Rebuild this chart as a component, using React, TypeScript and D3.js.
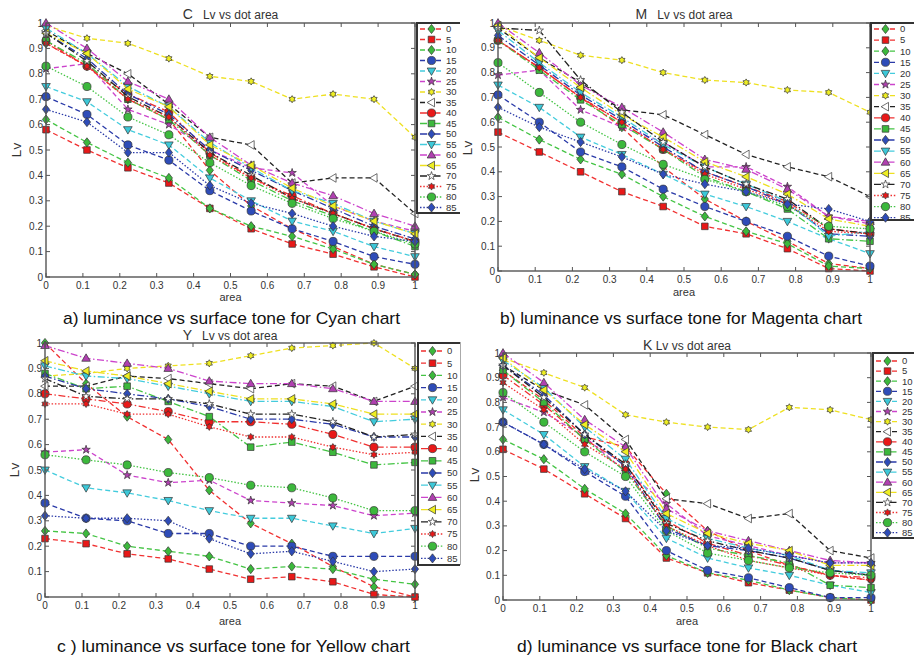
import React from 'react';
import * as d3 from 'd3';

// dot area (x axis)
const areas = [0, 0.111, 0.222, 0.333, 0.444, 0.556, 0.667, 0.778, 0.889, 1];
const tones = ['0', '5', '10', '15', '20', '25', '30', '35', '40', '45', '50', '55', '60', '65', '70', '75', '80', '85'];
const tickValues = [0, 0.1, 0.2, 0.3, 0.4, 0.5, 0.6, 0.7, 0.8, 0.9, 1];
const tickLabels = ['0', '0.1', '0.2', '0.3', '0.4', '0.5', '0.6', '0.7', '0.8', '0.9', '1'];

// Lv per tone, one row per series
const cyanLv = [
  [0.92, 0.83, 0.70, 0.62, 0.42, 0.28, 0.19, 0.12, 0.05, 0.01],
  [0.58, 0.50, 0.43, 0.37, 0.27, 0.19, 0.13, 0.09, 0.04, 0.00],
  [0.62, 0.53, 0.45, 0.39, 0.27, 0.20, 0.16, 0.11, 0.05, 0.01],
  [0.71, 0.64, 0.52, 0.46, 0.34, 0.26, 0.19, 0.14, 0.08, 0.05],
  [0.75, 0.69, 0.58, 0.52, 0.39, 0.30, 0.22, 0.18, 0.12, 0.08],
  [0.82, 0.84, 0.66, 0.60, 0.50, 0.43, 0.41, 0.28, 0.22, 0.18],
  [0.99, 0.94, 0.92, 0.86, 0.79, 0.77, 0.70, 0.72, 0.70, 0.55],
  [0.97, 0.88, 0.80, 0.68, 0.55, 0.52, 0.37, 0.39, 0.39, 0.25],
  [0.93, 0.83, 0.72, 0.65, 0.49, 0.39, 0.32, 0.25, 0.19, 0.14],
  [0.93, 0.84, 0.70, 0.62, 0.48, 0.38, 0.30, 0.24, 0.18, 0.12],
  [0.96, 0.86, 0.72, 0.64, 0.50, 0.42, 0.34, 0.27, 0.20, 0.15],
  [0.98, 0.88, 0.75, 0.67, 0.53, 0.43, 0.34, 0.29, 0.22, 0.17],
  [1.00, 0.90, 0.77, 0.70, 0.55, 0.44, 0.37, 0.32, 0.25, 0.20],
  [0.96, 0.88, 0.74, 0.67, 0.52, 0.44, 0.35, 0.28, 0.22, 0.17],
  [0.96, 0.85, 0.71, 0.63, 0.49, 0.40, 0.31, 0.25, 0.19, 0.14],
  [0.92, 0.83, 0.70, 0.63, 0.48, 0.39, 0.31, 0.25, 0.19, 0.14],
  [0.83, 0.75, 0.63, 0.56, 0.45, 0.36, 0.29, 0.23, 0.18, 0.13],
  [0.66, 0.61, 0.49, 0.49, 0.36, 0.29, 0.25, 0.20, 0.16, 0.14],
];

const magentaLv = [
  [0.93, 0.82, 0.70, 0.58, 0.42, 0.29, 0.20, 0.12, 0.03, 0.01],
  [0.56, 0.48, 0.40, 0.32, 0.26, 0.18, 0.15, 0.09, 0.01, 0.00],
  [0.62, 0.53, 0.45, 0.39, 0.30, 0.22, 0.16, 0.11, 0.02, 0.01],
  [0.71, 0.60, 0.48, 0.42, 0.33, 0.26, 0.20, 0.14, 0.06, 0.02],
  [0.75, 0.66, 0.54, 0.47, 0.39, 0.31, 0.26, 0.20, 0.13, 0.07],
  [0.79, 0.81, 0.65, 0.58, 0.52, 0.42, 0.42, 0.34, 0.22, 0.19],
  [0.99, 0.93, 0.87, 0.85, 0.80, 0.77, 0.76, 0.73, 0.72, 0.64],
  [0.98, 0.86, 0.76, 0.65, 0.63, 0.55, 0.47, 0.42, 0.38, 0.30],
  [0.93, 0.82, 0.70, 0.60, 0.49, 0.40, 0.34, 0.28, 0.17, 0.15],
  [0.93, 0.81, 0.69, 0.59, 0.49, 0.38, 0.32, 0.25, 0.13, 0.12],
  [0.95, 0.83, 0.71, 0.61, 0.50, 0.40, 0.34, 0.27, 0.15, 0.14],
  [0.97, 0.84, 0.72, 0.62, 0.51, 0.42, 0.35, 0.28, 0.14, 0.16],
  [1.00, 0.88, 0.75, 0.66, 0.56, 0.45, 0.41, 0.33, 0.22, 0.20],
  [0.99, 0.86, 0.74, 0.63, 0.54, 0.44, 0.38, 0.31, 0.21, 0.18],
  [0.98, 0.97, 0.77, 0.64, 0.52, 0.42, 0.35, 0.29, 0.17, 0.15],
  [0.93, 0.82, 0.70, 0.60, 0.49, 0.39, 0.33, 0.27, 0.16, 0.15],
  [0.84, 0.72, 0.60, 0.51, 0.43, 0.37, 0.32, 0.26, 0.18, 0.17],
  [0.66, 0.58, 0.52, 0.46, 0.39, 0.35, 0.32, 0.27, 0.25, 0.20],
];

const yellowLv = [
  [1.00, 0.84, 0.71, 0.62, 0.42, 0.29, 0.21, 0.12, 0.04, 0.00],
  [0.23, 0.21, 0.17, 0.15, 0.11, 0.07, 0.08, 0.06, 0.01, 0.00],
  [0.26, 0.25, 0.20, 0.18, 0.16, 0.11, 0.12, 0.11, 0.07, 0.05],
  [0.37, 0.31, 0.30, 0.25, 0.25, 0.20, 0.20, 0.16, 0.16, 0.16],
  [0.50, 0.43, 0.41, 0.38, 0.34, 0.31, 0.31, 0.28, 0.25, 0.27],
  [0.57, 0.58, 0.48, 0.45, 0.46, 0.38, 0.37, 0.36, 0.32, 0.33],
  [0.87, 0.88, 0.90, 0.91, 0.92, 0.95, 0.98, 0.99, 1.00, 0.90],
  [0.83, 0.83, 0.87, 0.86, 0.84, 0.82, 0.84, 0.83, 0.77, 0.83],
  [0.80, 0.78, 0.76, 0.73, 0.69, 0.69, 0.68, 0.64, 0.59, 0.59],
  [0.88, 0.82, 0.83, 0.77, 0.71, 0.59, 0.61, 0.57, 0.52, 0.53],
  [0.87, 0.82, 0.80, 0.78, 0.75, 0.70, 0.70, 0.68, 0.63, 0.63],
  [0.91, 0.87, 0.86, 0.83, 0.80, 0.77, 0.77, 0.75, 0.69, 0.70],
  [0.99, 0.94, 0.92, 0.90, 0.85, 0.84, 0.84, 0.82, 0.77, 0.77],
  [0.93, 0.89, 0.87, 0.84, 0.81, 0.78, 0.78, 0.76, 0.72, 0.72],
  [0.86, 0.79, 0.78, 0.78, 0.76, 0.72, 0.72, 0.69, 0.63, 0.64],
  [0.76, 0.76, 0.72, 0.72, 0.67, 0.63, 0.63, 0.59, 0.56, 0.57],
  [0.56, 0.54, 0.52, 0.49, 0.47, 0.44, 0.43, 0.39, 0.34, 0.34],
  [0.32, 0.31, 0.31, 0.30, 0.23, 0.17, 0.18, 0.14, 0.10, 0.11],
];

const blackLv = [
  [0.93, 0.81, 0.66, 0.62, 0.43, 0.28, 0.20, 0.14, 0.10, 0.08],
  [0.61, 0.53, 0.43, 0.33, 0.17, 0.11, 0.07, 0.04, 0.01, 0.00],
  [0.65, 0.57, 0.45, 0.35, 0.18, 0.11, 0.08, 0.04, 0.01, 0.00],
  [0.72, 0.63, 0.52, 0.42, 0.20, 0.12, 0.09, 0.05, 0.01, 0.01],
  [0.77, 0.67, 0.54, 0.44, 0.25, 0.17, 0.13, 0.10, 0.06, 0.03],
  [0.82, 0.76, 0.66, 0.52, 0.39, 0.26, 0.22, 0.18, 0.15, 0.15],
  [0.98, 0.92, 0.86, 0.75, 0.72, 0.70, 0.69, 0.78, 0.77, 0.73],
  [0.95, 0.85, 0.79, 0.65, 0.41, 0.39, 0.33, 0.35, 0.20, 0.17],
  [0.91, 0.79, 0.65, 0.55, 0.32, 0.23, 0.18, 0.14, 0.10, 0.09],
  [0.93, 0.80, 0.65, 0.52, 0.30, 0.21, 0.18, 0.15, 0.06, 0.05],
  [0.95, 0.83, 0.67, 0.54, 0.29, 0.22, 0.20, 0.17, 0.12, 0.10],
  [0.97, 0.86, 0.70, 0.57, 0.33, 0.25, 0.21, 0.18, 0.12, 0.11],
  [1.00, 0.88, 0.73, 0.62, 0.37, 0.28, 0.24, 0.20, 0.16, 0.15],
  [0.98, 0.85, 0.71, 0.60, 0.35, 0.27, 0.23, 0.20, 0.14, 0.14],
  [0.95, 0.82, 0.67, 0.55, 0.31, 0.24, 0.20, 0.17, 0.12, 0.10],
  [0.88, 0.77, 0.63, 0.53, 0.30, 0.22, 0.16, 0.13, 0.10, 0.08],
  [0.84, 0.72, 0.60, 0.50, 0.28, 0.19, 0.16, 0.13, 0.11, 0.10],
  [0.72, 0.63, 0.53, 0.44, 0.28, 0.22, 0.21, 0.18, 0.15, 0.15],
];

const RED = '#f03030', GREEN = '#44c444', BLUE = '#2a3aa8', CYAN = '#44ccdd', MAGENTA = '#cc44cc', YELLOW = '#eee020', BLACK = '#222';
const RED_F = '#e81818', GREEN_F = '#3cb83c', BLUE_F = '#2e4cb8', CYAN_F = '#3cc8d8', MAG_F = '#b040b0', YEL_F = '#eeee22';

const seriesStyle = [
  { line: RED, dash: 'dash', marker: 'diamond', fill: GREEN_F },
  { line: RED, dash: 'dash', marker: 'square', fill: RED_F },
  { line: GREEN, dash: 'dash', marker: 'diamond', fill: GREEN_F },
  { line: BLUE, dash: 'dash', marker: 'circle', fill: BLUE_F },
  { line: CYAN, dash: 'dash', marker: 'tridown', fill: CYAN_F },
  { line: MAGENTA, dash: 'dash', marker: 'pentagram', fill: MAG_F },
  { line: YELLOW, dash: 'dash', marker: 'hexagram', fill: YEL_F },
  { line: BLACK, dash: 'dash', marker: 'trileft', fill: '#fff' },
  { line: RED, dash: 'dashdot', marker: 'circle', fill: RED_F },
  { line: GREEN, dash: 'dashdot', marker: 'square', fill: GREEN_F },
  { line: BLUE, dash: 'dashdot', marker: 'diamond', fill: BLUE_F },
  { line: CYAN, dash: 'dashdot', marker: 'tridown', fill: CYAN_F },
  { line: MAGENTA, dash: 'dashdot', marker: 'triup', fill: MAG_F },
  { line: YELLOW, dash: 'dashdot', marker: 'trileft', fill: YEL_F },
  { line: BLACK, dash: 'dashdot', marker: 'pentagram', fill: '#fff' },
  { line: RED, dash: 'dot', marker: 'hexagram', fill: RED_F },
  { line: GREEN, dash: 'dot', marker: 'circle', fill: GREEN_F },
  { line: BLUE, dash: 'dot', marker: 'diamond', fill: BLUE_F },
];

const dashes: Record<string, string> = { dash: '5 3', dashdot: '7 2.5 1.5 2.5', dot: '1.5 1.8' };

const hexagram = (ro: number, ri: number) => {
  const pts: [number, number][] = d3.range(12).map(i => {
    const a = (i * Math.PI) / 6 - Math.PI / 2;
    const r = i % 2 === 0 ? ro : ri;
    return [r * Math.cos(a), r * Math.sin(a)];
  });
  return 'M' + pts.map(p => p[0].toFixed(2) + ',' + p[1].toFixed(2)).join('L') + 'Z';
};

const markerPaths: Record<string, string> = {
  diamond: 'M0,-4.6L3.6,0L0,4.6L-3.6,0Z',
  square: 'M-3.3,-3.3H3.3V3.3H-3.3Z',
  circle: d3.symbol(d3.symbolCircle, 52)() as string,
  tridown: 'M-4.3,-3L4.3,-3L0,4.4Z',
  triup: 'M-4.3,3L4.3,3L0,-4.4Z',
  trileft: 'M-4.4,0L3,-4.3L3,4.3Z',
  pentagram: d3.symbol(d3.symbolStar, 22)() as string,
  hexagram: hexagram(3.6, 2.1),
};

const panels = [
  { key: 'a', letter: 'C', data: cyanLv, L: 46, R: 415, T: 23, B: 277, clip: [0, 0, 460, 307],
    titleY: 19, areaY: 301, lvX: 21, lvY: 150, leg: { x: 417, y: 23, w: 50, h: 190, y0: 29, dy: 10.5 },
    caption: 'a) luminance vs surface tone for Cyan chart', capX: 63, capW: 337, capY: 324 },
  { key: 'b', letter: 'M', data: magentaLv, L: 498, R: 870, T: 23, B: 271, clip: [460, 0, 454, 307],
    titleY: 19, areaY: 296, lvX: 472, lvY: 148, leg: { x: 871, y: 23, w: 50, h: 197, y0: 29, dy: 11.1 },
    caption: 'b) luminance vs surface tone for Magenta chart', capX: 500, capW: 362, capY: 324 },
  { key: 'c', letter: 'Y', data: yellowLv, L: 45, R: 415, T: 343, B: 597, clip: [0, 328, 460, 329],
    titleY: 340, areaY: 625, lvX: 19, lvY: 470, leg: { x: 418, y: 343, w: 50, h: 222, y0: 351, dy: 12.2 },
    caption: 'c ) luminance vs surface tone for Yellow chart', capX: 57, capW: 353, capY: 652 },
  { key: 'd', letter: 'K', data: blackLv, L: 503, R: 871, T: 353, B: 600, clip: [460, 328, 454, 329],
    titleY: 350, areaY: 625, lvX: 479, lvY: 475, leg: { x: 873, y: 353, w: 50, h: 185, y0: 361, dy: 10.1 },
    caption: 'd) luminance vs surface tone for Black chart', capX: 517, capW: 340, capY: 652 },
];

const FONT = 'Liberation Sans, Arial, sans-serif';

function Panel({ p }: { p: typeof panels[number] }) {
  const x = d3.scaleLinear().domain([0, 1]).range([p.L, p.R]);
  const y = d3.scaleLinear().domain([0, 1]).range([p.B, p.T]);
  const line = d3.line<number>().x((_, i) => x(areas[i])).y(d => y(d));
  const clipId = 'clip-' + p.key;
  const lg = p.leg;
  return (
    <g>
      <defs>
        <clipPath id={clipId}>
          <rect x={p.clip[0]} y={p.clip[1]} width={p.clip[2]} height={p.clip[3]} />
        </clipPath>
      </defs>
      <g clipPath={`url(#${clipId})`}>
        {/* series */}
        {p.data.map((vals, si) => {
          const st = seriesStyle[si];
          return (
            <g key={si}>
              <path d={line(vals) as string} fill="none" stroke={st.line} strokeWidth={1.3}
                strokeDasharray={dashes[st.dash]} />
              {vals.map((v, i) => (
                <path key={i} d={markerPaths[st.marker]} transform={`translate(${x(areas[i])},${y(v)})`}
                  fill={st.fill} stroke="#333" strokeWidth={0.7} />
              ))}
            </g>
          );
        })}
        {/* axes box and ticks */}
        <rect x={p.L} y={p.T} width={p.R - p.L} height={p.B - p.T} fill="none" stroke="#555" strokeWidth={1.4} />
        {tickValues.map((t, i) => (
          <g key={'t' + i} stroke="#555" strokeWidth={1}>
            <line x1={x(t)} x2={x(t)} y1={p.B} y2={p.B - 4} />
            <line x1={x(t)} x2={x(t)} y1={p.T} y2={p.T + 4} />
            <line x1={p.L} x2={p.L + 4} y1={y(t)} y2={y(t)} />
            <line x1={p.R} x2={p.R - 4} y1={y(t)} y2={y(t)} />
          </g>
        ))}
        {tickValues.map((t, i) => (
          <text key={'xl' + i} x={x(t)} y={p.B + 12} textAnchor="middle" fontSize={10} fill="#333" fontFamily={FONT}>
            {tickLabels[i]}
          </text>
        ))}
        {tickValues.map((t, i) => (
          <text key={'yl' + i} x={p.L - 3} y={y(t) + 3.5} textAnchor="end" fontSize={10} fill="#333" fontFamily={FONT}>
            {tickLabels[i]}
          </text>
        ))}
        <text x={(p.L + p.R) / 2} y={p.areaY} textAnchor="middle" fontSize={11} fill="#333" fontFamily={FONT}>area</text>
        <text transform={`translate(${p.lvX},${p.lvY}) rotate(-90)`} textAnchor="middle" fontSize={13.5} fill="#333"
          fontFamily={FONT}>Lv</text>
        <text x={(p.L + p.R) / 2} y={p.titleY} textAnchor="middle" fontSize={12} fill="#333" fontFamily={FONT}>
          <tspan fontSize={14}>{p.letter}</tspan>
          <tspan>{p.letter === 'K' ? '\u00a0' : '\u00a0\u00a0\u00a0'}Lv vs dot area</tspan>
        </text>
        {/* legend */}
        <rect x={lg.x} y={lg.y} width={lg.w} height={lg.h} fill="#fff" stroke="#333" strokeWidth={2} />
        {tones.map((tn, si) => {
          const st = seriesStyle[si];
          const ly = lg.y0 + si * lg.dy;
          return (
            <g key={'lg' + si}>
              <line x1={lg.x + 3} x2={lg.x + 26} y1={ly} y2={ly} stroke={st.line} strokeWidth={1.3}
                strokeDasharray={dashes[st.dash]} />
              <path d={markerPaths[st.marker]} transform={`translate(${lg.x + 14.5},${ly})`} fill={st.fill}
                stroke="#333" strokeWidth={0.7} />
              <text x={lg.x + 29} y={ly + 3.3} fontSize={9.5} fill="#333" fontFamily={FONT}>{tn}</text>
            </g>
          );
        })}
      </g>
      <text x={p.capX} y={p.capY} fontSize={17} fill="#111" fontFamily={FONT} textLength={p.capW}
        lengthAdjust="spacingAndGlyphs">{p.caption}</text>
    </g>
  );
}

export default function App() {
  return (
    <svg width={914} height={657} style={{ position: 'absolute', left: 0, top: 0, background: '#fff' }}>
      <rect x={0} y={0} width={914} height={657} fill="#fff" />
      <line x1={460.5} x2={460.5} y1={342} y2={565} stroke="#aaa" strokeWidth={1} />
      {panels.map(p => <Panel key={p.key} p={p} />)}
    </svg>
  );
}
